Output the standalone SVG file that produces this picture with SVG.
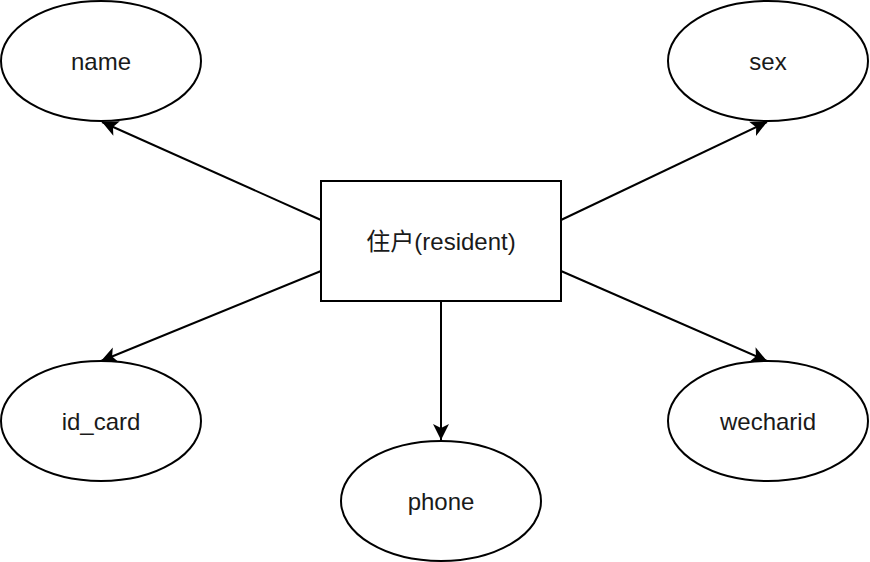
<svg xmlns="http://www.w3.org/2000/svg" width="870" height="562" viewBox="0 0 870 562">
<style>
.shape{fill:#ffffff;stroke:#000000;stroke-width:2}
.lbl{font-family:"Liberation Sans","Noto Sans CJK SC",sans-serif;font-size:24px;fill:#1a1a1a;text-anchor:middle}
.edge{stroke:#000000;stroke-width:2;fill:none;marker-end:url(#arrow)}
</style>
<defs>
<marker id="arrow" markerUnits="userSpaceOnUse" markerWidth="18" markerHeight="18" refX="16" refY="8" orient="auto" overflow="visible">
<path d="M16,8 L0,0 L4,8 L0,16 Z" fill="#000000"/>
</marker>
</defs>
<rect width="870" height="562" fill="#ffffff"/>
<g id="connectors">
<line class="edge" x1="321" y1="220" x2="102" y2="122"/>
<line class="edge" x1="561" y1="220" x2="767" y2="122"/>
<line class="edge" x1="321" y1="271" x2="101" y2="361"/>
<line class="edge" x1="561" y1="271" x2="767" y2="361"/>
<line class="edge" x1="441" y1="301" x2="441" y2="440"/>
</g>
<g id="resident">
<rect class="shape" x="321" y="181" width="240" height="120"/>
<text class="lbl" x="441" y="250">住户(resident)</text>
</g>
<g id="name">
<ellipse class="shape" cx="101" cy="61" rx="100" ry="60"/>
<text class="lbl" x="101" y="70">name</text>
</g>
<g id="sex">
<ellipse class="shape" cx="768" cy="61" rx="100" ry="60"/>
<text class="lbl" x="768" y="70">sex</text>
</g>
<g id="id_card">
<ellipse class="shape" cx="101" cy="421" rx="100" ry="60"/>
<text class="lbl" x="101" y="430">id_card</text>
</g>
<g id="wecharid">
<ellipse class="shape" cx="768" cy="421" rx="100" ry="60"/>
<text class="lbl" x="768" y="430">wecharid</text>
</g>
<g id="phone">
<ellipse class="shape" cx="441" cy="501" rx="100" ry="60"/>
<text class="lbl" x="441" y="510">phone</text>
</g>
</svg>
